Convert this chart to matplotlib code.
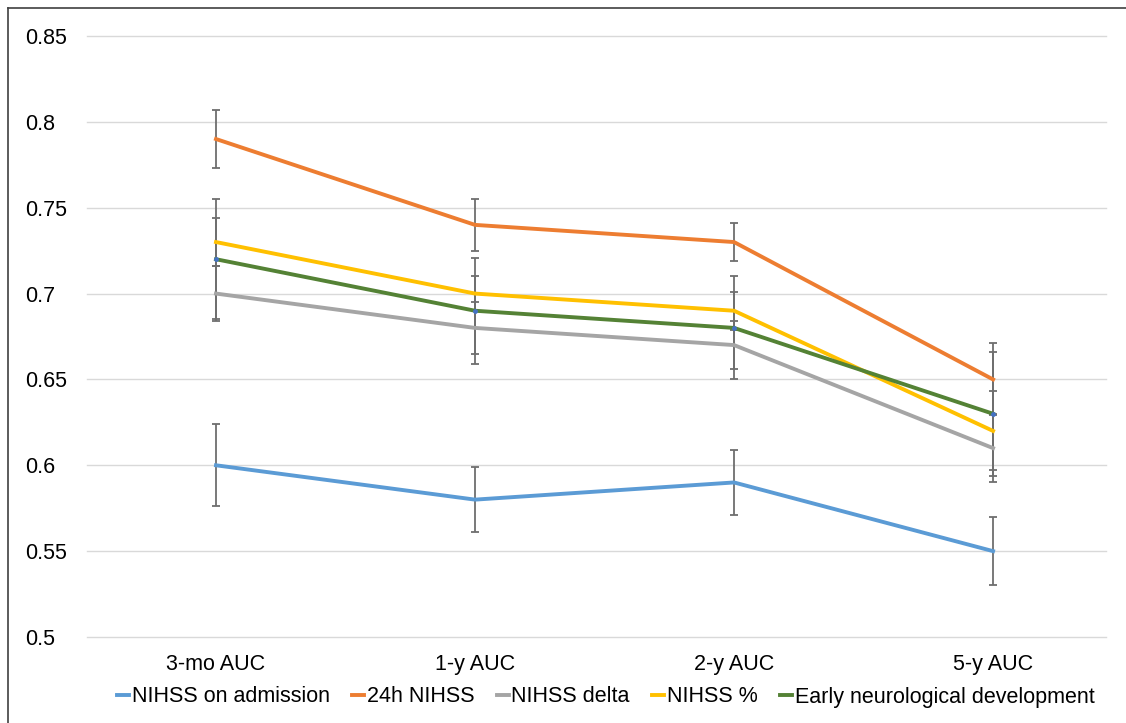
import matplotlib as mpl
import matplotlib.pyplot as plt
import numpy as np
from matplotlib.lines import Line2D

plt.rcParams['font.family'] = ['Liberation Sans', 'DejaVu Sans']

categories = ['3-mo AUC', '1-y AUC', '2-y AUC', '5-y AUC']

names = ['NIHSS on admission', '24h NIHSS', 'NIHSS delta', 'NIHSS %',
         'Early neurological development']
colors = ['#5B9BD5', '#ED7D31', '#A5A5A5', '#FFC000', '#548235']

admission = [0.60, 0.58, 0.59, 0.55]
nihss_24h = [0.79, 0.74, 0.73, 0.65]
delta = [0.70, 0.68, 0.67, 0.61]
percent = [0.73, 0.70, 0.69, 0.62]
early = [0.72, 0.69, 0.68, 0.63]

admission_err = [0.024, 0.019, 0.019, 0.020]
nihss_24h_err = [0.017, 0.015, 0.011, 0.021]
delta_err = [0.016, 0.015, 0.014, 0.020]
percent_err = [0.014, 0.010, 0.011, 0.023]
early_err = [0.035, 0.031, 0.030, 0.036]

series = [admission, nihss_24h, delta, percent, early]
errors = [admission_err, nihss_24h_err, delta_err, percent_err, early_err]

x = np.arange(len(categories))

fig = plt.figure(figsize=(11.26, 7.23), dpi=100)
ax = fig.add_axes([87/1126, 86/723, (1106-87)/1126, (637-36)/723])

for vals, err, col, name in zip(series, errors, colors, names):
    ax.errorbar(x, vals, yerr=err, fmt='none', ecolor='#6E6E6E',
                elinewidth=1.3, capsize=3, capthick=1.3, zorder=2)
    ax.plot(x, vals, color=col, lw=2.8, label=name, zorder=3,
            solid_joinstyle='miter')

# small blue point markers sitting on the green series
ax.plot(x, early, ls='none', marker='o', ms=2.5, color='#4472C4', zorder=4)

ax.set_xlim(-0.498, 3.436)
ax.set_ylim(0.5, 0.85)
ax.set_yticks(np.arange(0.5, 0.851, 0.05))
ax.set_yticklabels(['0.5', '0.55', '0.6', '0.65', '0.7', '0.75', '0.8', '0.85'])
ax.set_xticks(x)
ax.set_xticklabels(categories)
ax.grid(axis='y', color='#D9D9D9', lw=1)
for gl in ax.get_ygridlines():
    gl.set_clip_on(False)
ax.set_axisbelow(True)
for s in ax.spines.values():
    s.set_visible(False)
ax.tick_params(axis='both', length=0, labelsize=15.5, colors='#000000')
ax.tick_params(axis='y', pad=44.6)
for lab in ax.get_yticklabels():
    lab.set_horizontalalignment('left')
ax.tick_params(axis='x', pad=12)

handles = [Line2D([0], [0], color=c, lw=2.8) for c in colors]
fig.legend(handles, names, loc='center', bbox_to_anchor=(0.538, 1 - 697/723),
           ncol=5, frameon=False, fontsize=15.5, handlelength=0.55,
           handletextpad=0.12, columnspacing=1.05, borderaxespad=0)

# outer frame
fig.add_artist(Line2D([8/1126, 8/1126], [0, 1 - 8/723], color='#404040',
                      lw=1.2, transform=fig.transFigure))
fig.add_artist(Line2D([8/1126, 1], [1 - 8/723, 1 - 8/723], color='#404040',
                      lw=1.2, transform=fig.transFigure))

fig.savefig('out.png', dpi=100)
